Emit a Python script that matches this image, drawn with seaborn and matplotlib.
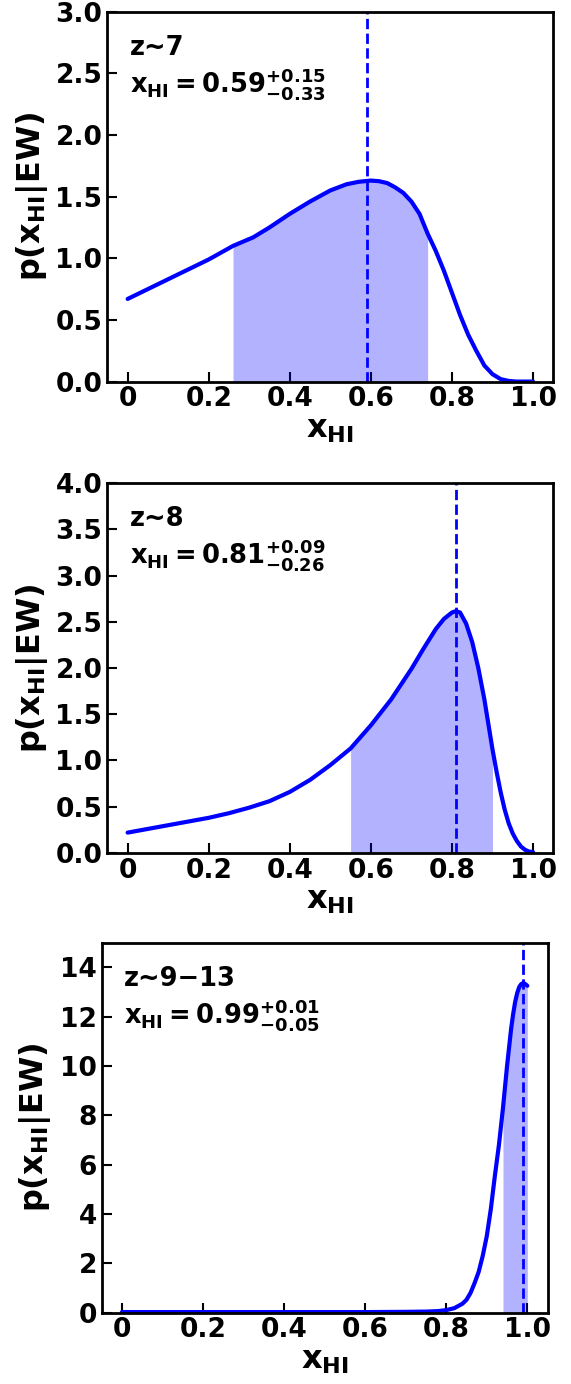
import numpy as np
import pandas as pd
import matplotlib
matplotlib.use('Agg')
import matplotlib.pyplot as plt
import seaborn as sns

# ─────────────────────────────────────────
# Data read off the reference posteriors
# ─────────────────────────────────────────
x_z7 = [0, 0.05, 0.1, 0.15, 0.2, 0.26, 0.31, 0.35, 0.4, 0.45, 0.5, 0.54, 0.57,
        0.6, 0.62, 0.64, 0.66, 0.68, 0.7, 0.72, 0.74, 0.76, 0.78, 0.8, 0.82,
        0.84, 0.86, 0.88, 0.9, 0.92, 0.94, 0.96, 1.0]
p_z7 = [0.67, 0.75, 0.83, 0.91, 0.99, 1.10, 1.17, 1.25, 1.36, 1.46, 1.55, 1.60,
        1.62, 1.63, 1.625, 1.61, 1.575, 1.53, 1.46, 1.36, 1.20, 1.06, 0.90,
        0.72, 0.54, 0.38, 0.25, 0.13, 0.06, 0.02, 0.005, 0.0, 0.0]

x_z8 = [0, 0.05, 0.1, 0.15, 0.2, 0.25, 0.3, 0.35, 0.4, 0.45, 0.5, 0.55, 0.6,
        0.65, 0.7, 0.73, 0.76, 0.78, 0.8, 0.81, 0.82, 0.835, 0.85, 0.865, 0.88,
        0.9, 0.91, 0.92, 0.93, 0.94, 0.95, 0.96, 0.97, 0.98, 0.99, 1.0]
p_z8 = [0.22, 0.26, 0.30, 0.34, 0.38, 0.43, 0.49, 0.56, 0.66, 0.79, 0.95, 1.13,
        1.38, 1.66, 1.99, 2.21, 2.42, 2.53, 2.60, 2.615, 2.60, 2.48, 2.28, 2.0,
        1.66, 1.12, 0.88, 0.66, 0.47, 0.32, 0.21, 0.13, 0.07, 0.035, 0.015, 0.01]

x_z9 = [0, 0.2, 0.4, 0.6, 0.7, 0.75, 0.78, 0.8, 0.82, 0.84, 0.85, 0.86, 0.87,
        0.88, 0.89, 0.9, 0.91, 0.92, 0.93, 0.94, 0.95, 0.96, 0.965, 0.97,
        0.975, 0.98, 0.985, 0.99, 0.995, 1.0]
p_z9 = [0.02, 0.02, 0.02, 0.02, 0.03, 0.04, 0.06, 0.1, 0.18, 0.36, 0.52, 0.8,
        1.2, 1.65, 2.3, 3.1, 4.2, 5.55, 6.8, 8.3, 10.0, 11.5, 12.1, 12.6,
        12.95, 13.2, 13.32, 13.36, 13.32, 13.25]

labels = ['z~7', 'z~8', 'z~9\u221213']
medians = [0.59, 0.81, 0.99]
err_hi = ['0.15', '0.09', '0.01']
err_lo = ['0.33', '0.26', '0.05']
ci_lo = [0.26, 0.55, 0.94]
ci_hi = [0.74, 0.90, 1.0]
ymax = [3.0, 4.0, 15.0]
yticks = [np.arange(0, 3.01, 0.5), np.arange(0, 4.01, 0.5), np.arange(0, 15, 2)]
xticks = [0, 0.2, 0.4, 0.6, 0.8, 1.0]
xticklabels = ['0', '0.2', '0.4', '0.6', '0.8', '1.0']

series = [(x_z7, p_z7), (x_z8, p_z8), (x_z9, p_z9)]

# ─────────────────────────────────────────
# Style
# ─────────────────────────────────────────
sns.set_style('ticks')
plt.rcParams['font.family'] = ['DejaVu Sans']
plt.rcParams['font.weight'] = 'bold'
plt.rcParams['mathtext.default'] = 'bf'
plt.rcParams['axes.linewidth'] = 2.0
plt.rcParams['axes.edgecolor'] = 'black'
plt.rcParams['text.color'] = 'black'
plt.rcParams['axes.labelcolor'] = 'black'
plt.rcParams['xtick.color'] = 'black'
plt.rcParams['ytick.color'] = 'black'

fig = plt.figure(figsize=(5.71, 13.84), dpi=100)
positions = [
    [0.188, 0.7243, 0.781, 0.2673],
    [0.188, 0.3837, 0.781, 0.2673],
    [0.178, 0.0516, 0.781, 0.2673],
]
ylab_x = [-0.128, -0.128, -0.11]
ytick_fmt = ['{:.1f}', '{:.1f}', '{:.0f}']

for i, ((xs, ps), pos) in enumerate(zip(series, positions)):
    ax = fig.add_axes(pos)
    df = pd.DataFrame({'x': xs, 'p': ps})
    sns.lineplot(data=df, x='x', y='p', ax=ax, color='blue', lw=3,
                 sort=True, estimator=None)

    # shaded credible interval
    sel = df[(df['x'] >= ci_lo[i] - 1e-9) & (df['x'] <= ci_hi[i] + 1e-9)]
    ax.fill_between(sel['x'], 0, sel['p'], color='blue', alpha=0.3, lw=0)

    ax.axvline(medians[i], color='blue', ls='--', lw=2)

    ax.set_xlim(-0.05, 1.05)
    ax.set_ylim(0, ymax[i])
    ax.set_xticks(xticks)
    ax.set_xticklabels(xticklabels)
    ax.set_yticks(yticks[i])
    ax.set_yticklabels([ytick_fmt[i].format(v) for v in yticks[i]])
    ax.tick_params(axis='both', direction='in', length=7, width=1.5,
                   labelsize=19, top=False, right=False)
    for lab in ax.get_xticklabels() + ax.get_yticklabels():
        lab.set_fontweight('bold')
    for sp in ax.spines.values():
        sp.set_visible(True)
        sp.set_linewidth(2.0)

    ax.set_xlabel(r'$x_{HI}$', fontsize=23, labelpad=1)
    ax.set_ylabel(r'$p(x_{HI}|EW)$', fontsize=23)
    ax.yaxis.set_label_coords(ylab_x[i], 0.5)

    ax.text(0.05, 0.903, labels[i], transform=ax.transAxes, fontsize=18.5,
            fontweight='bold', va='center', ha='left')
    ax.text(0.05, 0.805,
            r'$x_{HI}=%.2f^{+%s}_{-%s}$' % (medians[i], err_hi[i], err_lo[i]),
            transform=ax.transAxes, fontsize=18.5, va='center', ha='left')

plt.savefig('out.png', dpi=100)
